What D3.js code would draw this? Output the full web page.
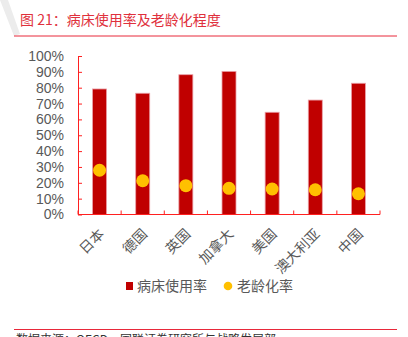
<!DOCTYPE html>
<html><head><meta charset="utf-8">
<script src="https://cdn.jsdelivr.net/npm/d3@7/dist/d3.min.js"></script>
<style>body{margin:0;background:#fff;}svg{display:block;}</style>
</head><body>
<script>
const categories = ["日本","德国","英国","加拿大","美国","澳大利亚","中国"];
const bedUsage = [79.2, 76.5, 88.2, 90.3, 64.5, 72.2, 82.8];
const agingRate = [27.9, 21.3, 18.2, 16.5, 16.1, 15.6, 13.1];
const yTicks = [0,10,20,30,40,50,60,70,80,90,100];
const seriesNames = ["病床使用率","老龄化率"];
const titleText = "图 21：病床使用率及老龄化程度";
const sourceText = "数据来源：OECD，国联证券研究所与战略发展部";

const W = 408, H = 337;
const svg = d3.select("body").append("svg").attr("width", W).attr("height", H);
const font = "'Liberation Sans', Arial, 'Noto Sans CJK SC', sans-serif";
const cjk = "'Noto Sans CJK SC', sans-serif";

// watermark stroke
svg.append("path").attr("d","M0,0 L8,0 L20,34 L14,36 Z").attr("fill","#ececec");

svg.append("text").attr("x",20).attr("y",25).text(titleText).attr("xml:space","preserve")
  .attr("fill","#e0303c").attr("font-size",14).attr("font-family",cjk).style("white-space","pre");
svg.append("line").attr("x1",14).attr("x2",397).attr("y1",36).attr("y2",36).attr("stroke","#e8283a").attr("stroke-width",1);

const xb = d3.scaleBand().domain(categories).range([78, 380]);
const y = d3.scaleLinear().domain([0,100]).range([214.5, 56]);

const g = svg.append("g");
g.selectAll("rect.bar").data(categories).enter().append("rect")
  .attr("x", d => xb(d) + xb.bandwidth()/2 - 7)
  .attr("width", 14)
  .attr("y", (d,i) => y(bedUsage[i]))
  .attr("height", (d,i) => y(0) - y(bedUsage[i]))
  .attr("fill","#c00000").attr("stroke","#eaa0a8").attr("stroke-width",0.8);

g.selectAll("circle.dot").data(categories).enter().append("circle")
  .attr("cx", d => xb(d) + xb.bandwidth()/2)
  .attr("cy", (d,i) => y(agingRate[i]))
  .attr("r", 6.5).attr("fill","#ffc000");

// y axis
const yAxis = d3.axisLeft(y).tickValues(yTicks).tickFormat(d => d + "%").tickSizeInner(-4).tickSizeOuter(0).tickPadding(14);
const ya = svg.append("g").attr("transform","translate(78,0)").call(yAxis);
ya.select(".domain").attr("stroke","#ff2020");
ya.selectAll(".tick line").attr("stroke","#ff2020");
ya.selectAll("text").attr("fill","#595959").attr("font-size",14).attr("font-family",font);

// x axis
const xAxis = svg.append("g").attr("transform","translate(0,214.5)");
xAxis.append("line").attr("x1",78).attr("x2",380).attr("stroke","#ff2020");
const bounds = categories.map(d => xb(d)).concat([xb(categories[categories.length-1]) + xb.bandwidth()]);
xAxis.selectAll("line.tk").data(bounds).enter().append("line")
  .attr("x1", d=>d).attr("x2", d=>d).attr("y1",0).attr("y2",-4).attr("stroke","#ff2020");
xAxis.selectAll("text").data(categories).enter().append("text")
  .attr("transform", d => `translate(${xb(d)+xb.bandwidth()/2+2},${17}) rotate(-45)`)
  .attr("text-anchor","end").attr("dy","0.35em")
  .text(d=>d).attr("fill","#595959").attr("font-size",14).attr("font-family",cjk);

// legend
const lg = svg.append("g");
lg.append("rect").attr("x",126).attr("y",282).attr("width",7).attr("height",8).attr("fill","#c00000");
lg.append("text").attr("x",137).attr("y",291).text(seriesNames[0]).attr("fill","#595959").attr("font-size",14).attr("font-family",cjk);
lg.append("circle").attr("cx",228).attr("cy",286).attr("r",4.3).attr("fill","#ffc000");
lg.append("text").attr("x",237).attr("y",291).text(seriesNames[1]).attr("fill","#595959").attr("font-size",14).attr("font-family",cjk);

svg.append("line").attr("x1",14).attr("x2",397).attr("y1",329.5).attr("y2",329.5).attr("stroke","#e8283a").attr("stroke-width",1);
svg.append("text").attr("x",16).attr("y",344).text(sourceText).attr("fill","#333").attr("font-size",12).attr("font-family",cjk);
</script>
</body></html>
